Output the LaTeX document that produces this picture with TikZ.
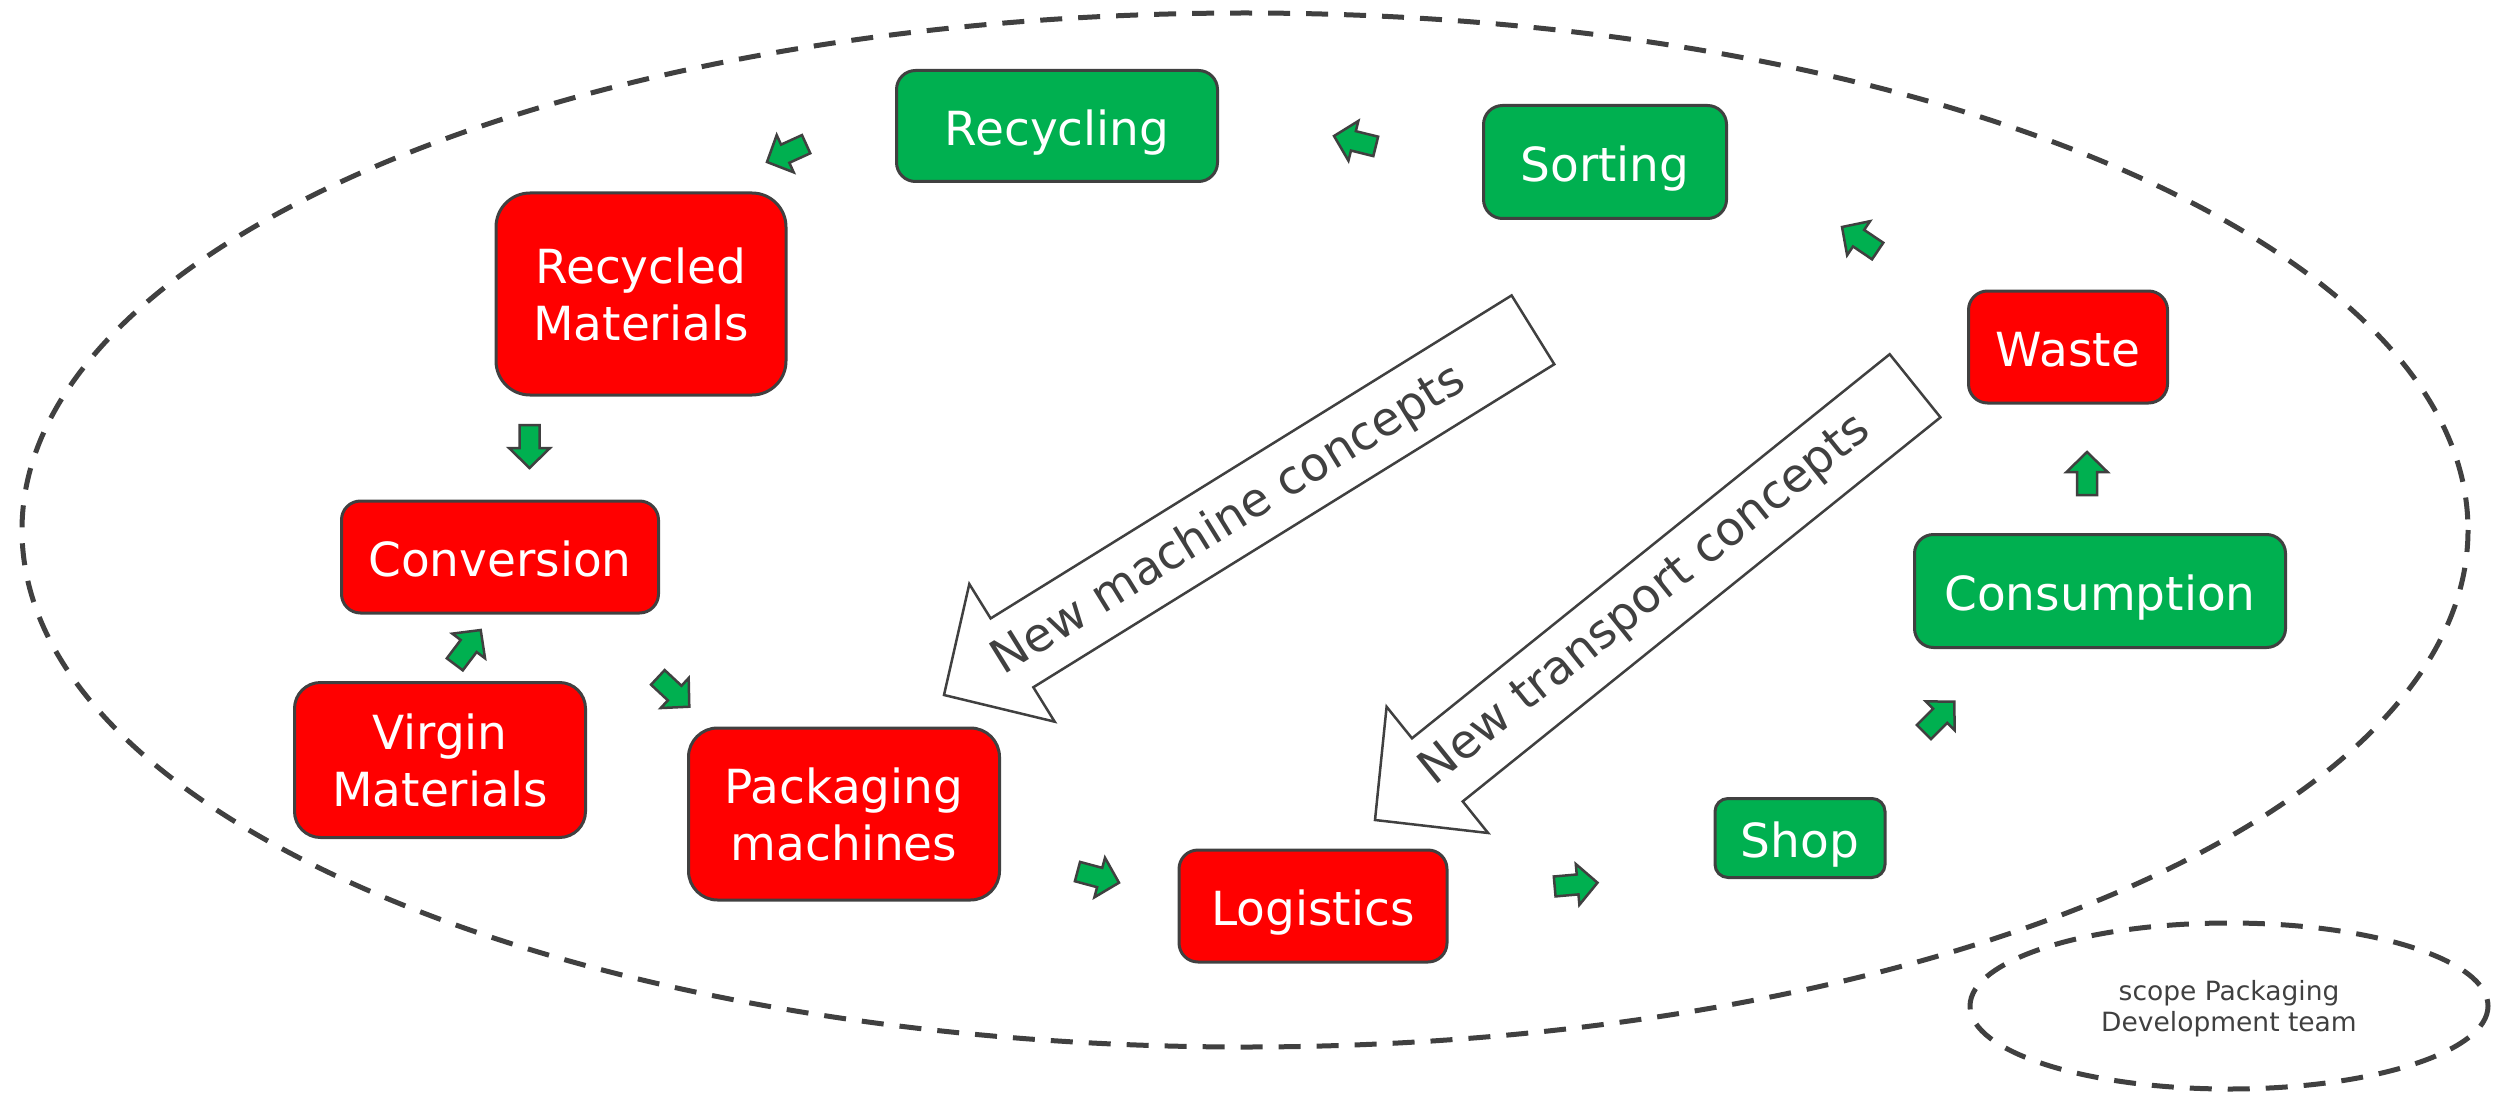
\documentclass[tikz,border=0pt]{standalone}
\usepackage{fontspec}
\setmainfont{DejaVu Sans}
\definecolor{bd}{HTML}{404040}
\definecolor{grn}{HTML}{00B050}
\definecolor{rd}{HTML}{FF0000}
\tikzset{
  box/.style={draw=bd, line width=3pt, text=white, align=center, inner sep=0pt,
    font=\fontsize{47}{57}\selectfont},
  one/.style={text height=39pt, text depth=0pt},
  redbox/.style={box, fill=rd},
  greenbox/.style={box, fill=grn},
  smallarr/.style={draw=bd, line width=2.5pt, fill=grn, line join=miter},
  bigarr/.style={draw=bd, line width=2.5pt, fill=white, line join=miter},
  scopeline/.style={draw=bd, line width=5pt, dash pattern=on 22pt off 16pt},
  bigtext/.style={text=bd, font=\fontsize{47}{57}\selectfont, inner sep=0pt},
  sarrow/.pic={\draw[smallarr] (0,0) -- (-20,20.5) -- (-20,10) -- (-43,10) -- (-43,-10) -- (-20,-10) -- (-20,-20.5) -- cycle;},
  barrow/.pic={\draw[bigarr] (0,0) -- (-80,81) -- (-80,40.5) -- (-693,40.5) -- (-693,-40.5) -- (-80,-40.5) -- (-80,-81) -- cycle;},
}
\begin{document}
\begin{tikzpicture}[x=1pt, y=-1pt]
\useasboundingbox (0,0) rectangle (2503,1094);
% scope ellipses
\draw[scopeline] (1245,530) ellipse [x radius=1223, y radius=517];
\draw[scopeline] (2229,1006) ellipse [x radius=259, y radius=83];
\node[text=bd, font=\fontsize{26.5}{31}\selectfont, align=center, inner sep=0pt] (scopetxt) at (2229,1009) {scope Packaging\\Development team};

% boxes
\node[greenbox, one, minimum width=321pt, minimum height=111pt, rounded corners=19pt] (recycling) at (1057,126) {Recycling};
\node[greenbox, one, minimum width=243pt, minimum height=113pt, rounded corners=19pt] (sorting) at (1605,162) {Sorting};
\node[redbox, minimum width=290pt, minimum height=202pt, rounded corners=34pt] (recmat) at (641,294) {Recycled\\Materials};
\node[redbox, one, minimum width=317pt, minimum height=112pt, rounded corners=19pt] (conversion) at (500,557) {Conversion};
\node[redbox, minimum width=291pt, minimum height=155pt, rounded corners=26pt] (virgin) at (440,760) {Virgin\\Materials};
\node[redbox, minimum width=311pt, minimum height=172pt, rounded corners=29pt] (packaging) at (844,814) {Packaging\\machines};
\node[redbox, one, minimum width=268pt, minimum height=112pt, rounded corners=19pt] (logistics) at (1313,906) {Logistics};
\node[greenbox, one, minimum width=170pt, minimum height=79pt, rounded corners=13pt] (shop) at (1800,838) {Shop};
\node[greenbox, one, minimum width=371pt, minimum height=113pt, rounded corners=19pt] (consumption) at (2100,591) {Consumption};
\node[redbox, one, minimum width=199pt, minimum height=112pt, rounded corners=19pt] (waste) at (2068,347) {Waste};

% small block arrows (tip position, direction)
\pic[rotate=204.5] at (767,162) {sarrow};
\pic[rotate=270] at (529.5,468) {sarrow};
\pic[rotate=53] at (480.7,630) {sarrow};
\pic[rotate=-43] at (689.3,706.7) {sarrow};
\pic[rotate=-15] at (1119,882.7) {sarrow};
\pic[rotate=5] at (1597.5,882.7) {sarrow};
\pic[rotate=45] at (1954.3,701.7) {sarrow};
\pic[rotate=90] at (2087,452) {sarrow};
\pic[rotate=146] at (1842,227) {sarrow};
\pic[rotate=166] at (1334,136) {sarrow};

% big hollow arrows
\pic[rotate=211.8] at (944,695) {barrow};
\pic[rotate=218.8] at (1375,820) {barrow};
\node[bigtext, rotate=31.8] (machine) at (1229,521) {New machine concepts};
\node[bigtext, rotate=38.8] (transport) at (1646,601) {New transport concepts};
\end{tikzpicture}
\end{document}
